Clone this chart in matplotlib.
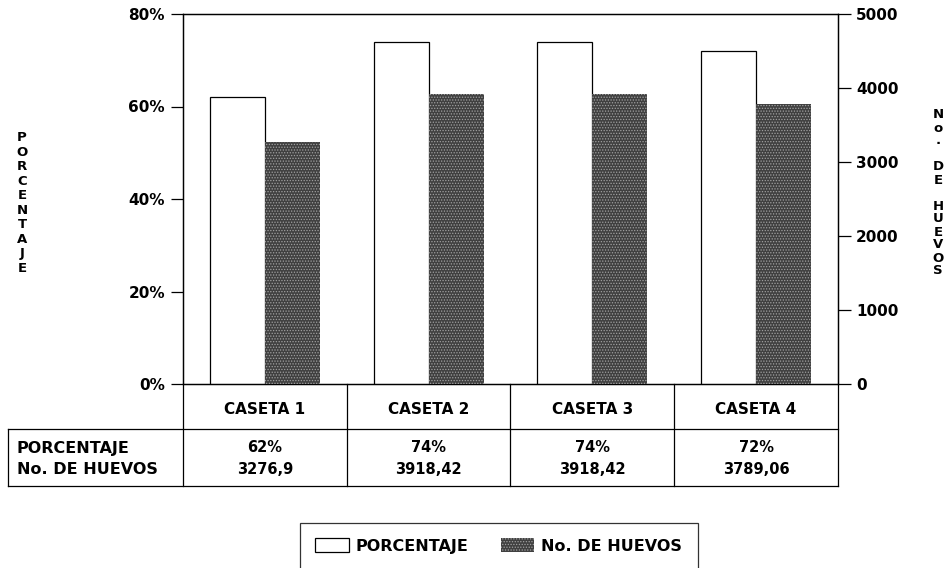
import matplotlib.pyplot as plt
import matplotlib.transforms as mtransforms
from matplotlib.patches import Patch
import numpy as np

plt.rc('font', family='DejaVu Sans', weight='bold', size=10)
plt.rcParams['hatch.linewidth'] = 0.6

casetas = ['CASETA 1', 'CASETA 2', 'CASETA 3', 'CASETA 4']
porcentaje = [62, 74, 74, 72]
huevos = [3276.9, 3918.42, 3918.42, 3789.06]
pct_ticks = [0, 20, 40, 60, 80]
huevo_ticks = [0, 1000, 2000, 3000, 4000, 5000]

pct_lbl = ['%d%%' % p for p in porcentaje]
huevo_lbl = [str(h).replace('.', ',') for h in huevos]

W = 953 / 100
H = 568 / 100
fig = plt.figure(figsize=(W, H), dpi=100)
ax = fig.add_axes([183 / 953, 1 - 384 / 568, 655 / 953, 370 / 568])
ax2 = ax.twinx()

x = np.arange(len(casetas))
w = 0.336
dark = dict(facecolor='#404040', edgecolor='#a0a0a0', hatch='......', linewidth=0)

ax.bar(x - w, porcentaje, w, align='edge', facecolor='white',
       edgecolor='black', linewidth=0.9, zorder=3)
ax2.bar(x, huevos, w, align='edge', zorder=3, **dark)

ax.set_xlim(-0.5, 3.5)
ax.set_ylim(0, 80)
ax2.set_ylim(0, 5000)
ax.set_yticks(pct_ticks)
ax.set_yticklabels(['%d%%' % t for t in pct_ticks])
ax2.set_yticks(huevo_ticks)
ax.set_xticks([])
for a in (ax, ax2):
    a.tick_params(axis='y', direction='out', length=9, width=0.9, pad=4,
                  labelsize=11)
    for s in a.spines.values():
        s.set_linewidth(0.9)

# stacked axis titles
fig.text(22 / 953, 1 - 203 / 568, '\n'.join('PORCENTAJE'), ha='center',
         va='center', fontsize=9.5, linespacing=1.15)
fig.text(938 / 953, 1 - 193 / 568, '\n'.join('No. DE HUEVOS'), ha='center',
         va='center', fontsize=9.5, linespacing=1.0)

# data table under the axes
tr = mtransforms.blended_transform_factory(ax.transData, ax.transAxes)
x_left = (8 - 183) / 163.75 - 0.5
y_mid = (384 - 429) / 370
y_bot = (384 - 486) / 370
kw = dict(transform=tr, color='black', linewidth=0.9, clip_on=False)
for b in np.arange(-0.5, 4.0, 1.0):
    ax.plot([b, b], [0, y_bot], **kw)
ax.plot([x_left, x_left], [y_mid, y_bot], **kw)
ax.plot([x_left, 3.5], [y_mid, y_mid], **kw)
ax.plot([x_left, 3.5], [y_bot, y_bot], **kw)

for i, c in enumerate(casetas):
    ax.text(i, (384 - 410) / 370, c, transform=tr, ha='center', va='center',
            fontsize=11)
    ax.text(i, (384 - 448) / 370, pct_lbl[i], transform=tr, ha='center',
            va='center', fontsize=10.5)
    ax.text(i, (384 - 470) / 370, huevo_lbl[i], transform=tr, ha='center',
            va='center', fontsize=10.5)
x_txt = (17 - 183) / 163.75 - 0.5
ax.text(x_txt, (384 - 448) / 370, 'PORCENTAJE', transform=tr, ha='left',
        va='center', fontsize=11.5)
ax.text(x_txt, (384 - 470) / 370, 'No. DE HUEVOS', transform=tr, ha='left',
        va='center', fontsize=11.5)

handles = [Patch(facecolor='white', edgecolor='black', linewidth=0.9,
                 label='PORCENTAJE'),
           Patch(label='No. DE HUEVOS', **dark)]
leg = fig.legend(handles=handles, loc='upper left',
                 bbox_to_anchor=(300 / 953, 1 - 523 / 568), ncol=2,
                 frameon=True, fancybox=False, edgecolor='black',
                 fontsize=11.5, handlelength=2.1, handleheight=1.0,
                 handletextpad=0.45, columnspacing=2.0, borderpad=0.95,
                 borderaxespad=0)
leg.get_frame().set_linewidth(0.9)

fig.savefig('out.png', dpi=100)
